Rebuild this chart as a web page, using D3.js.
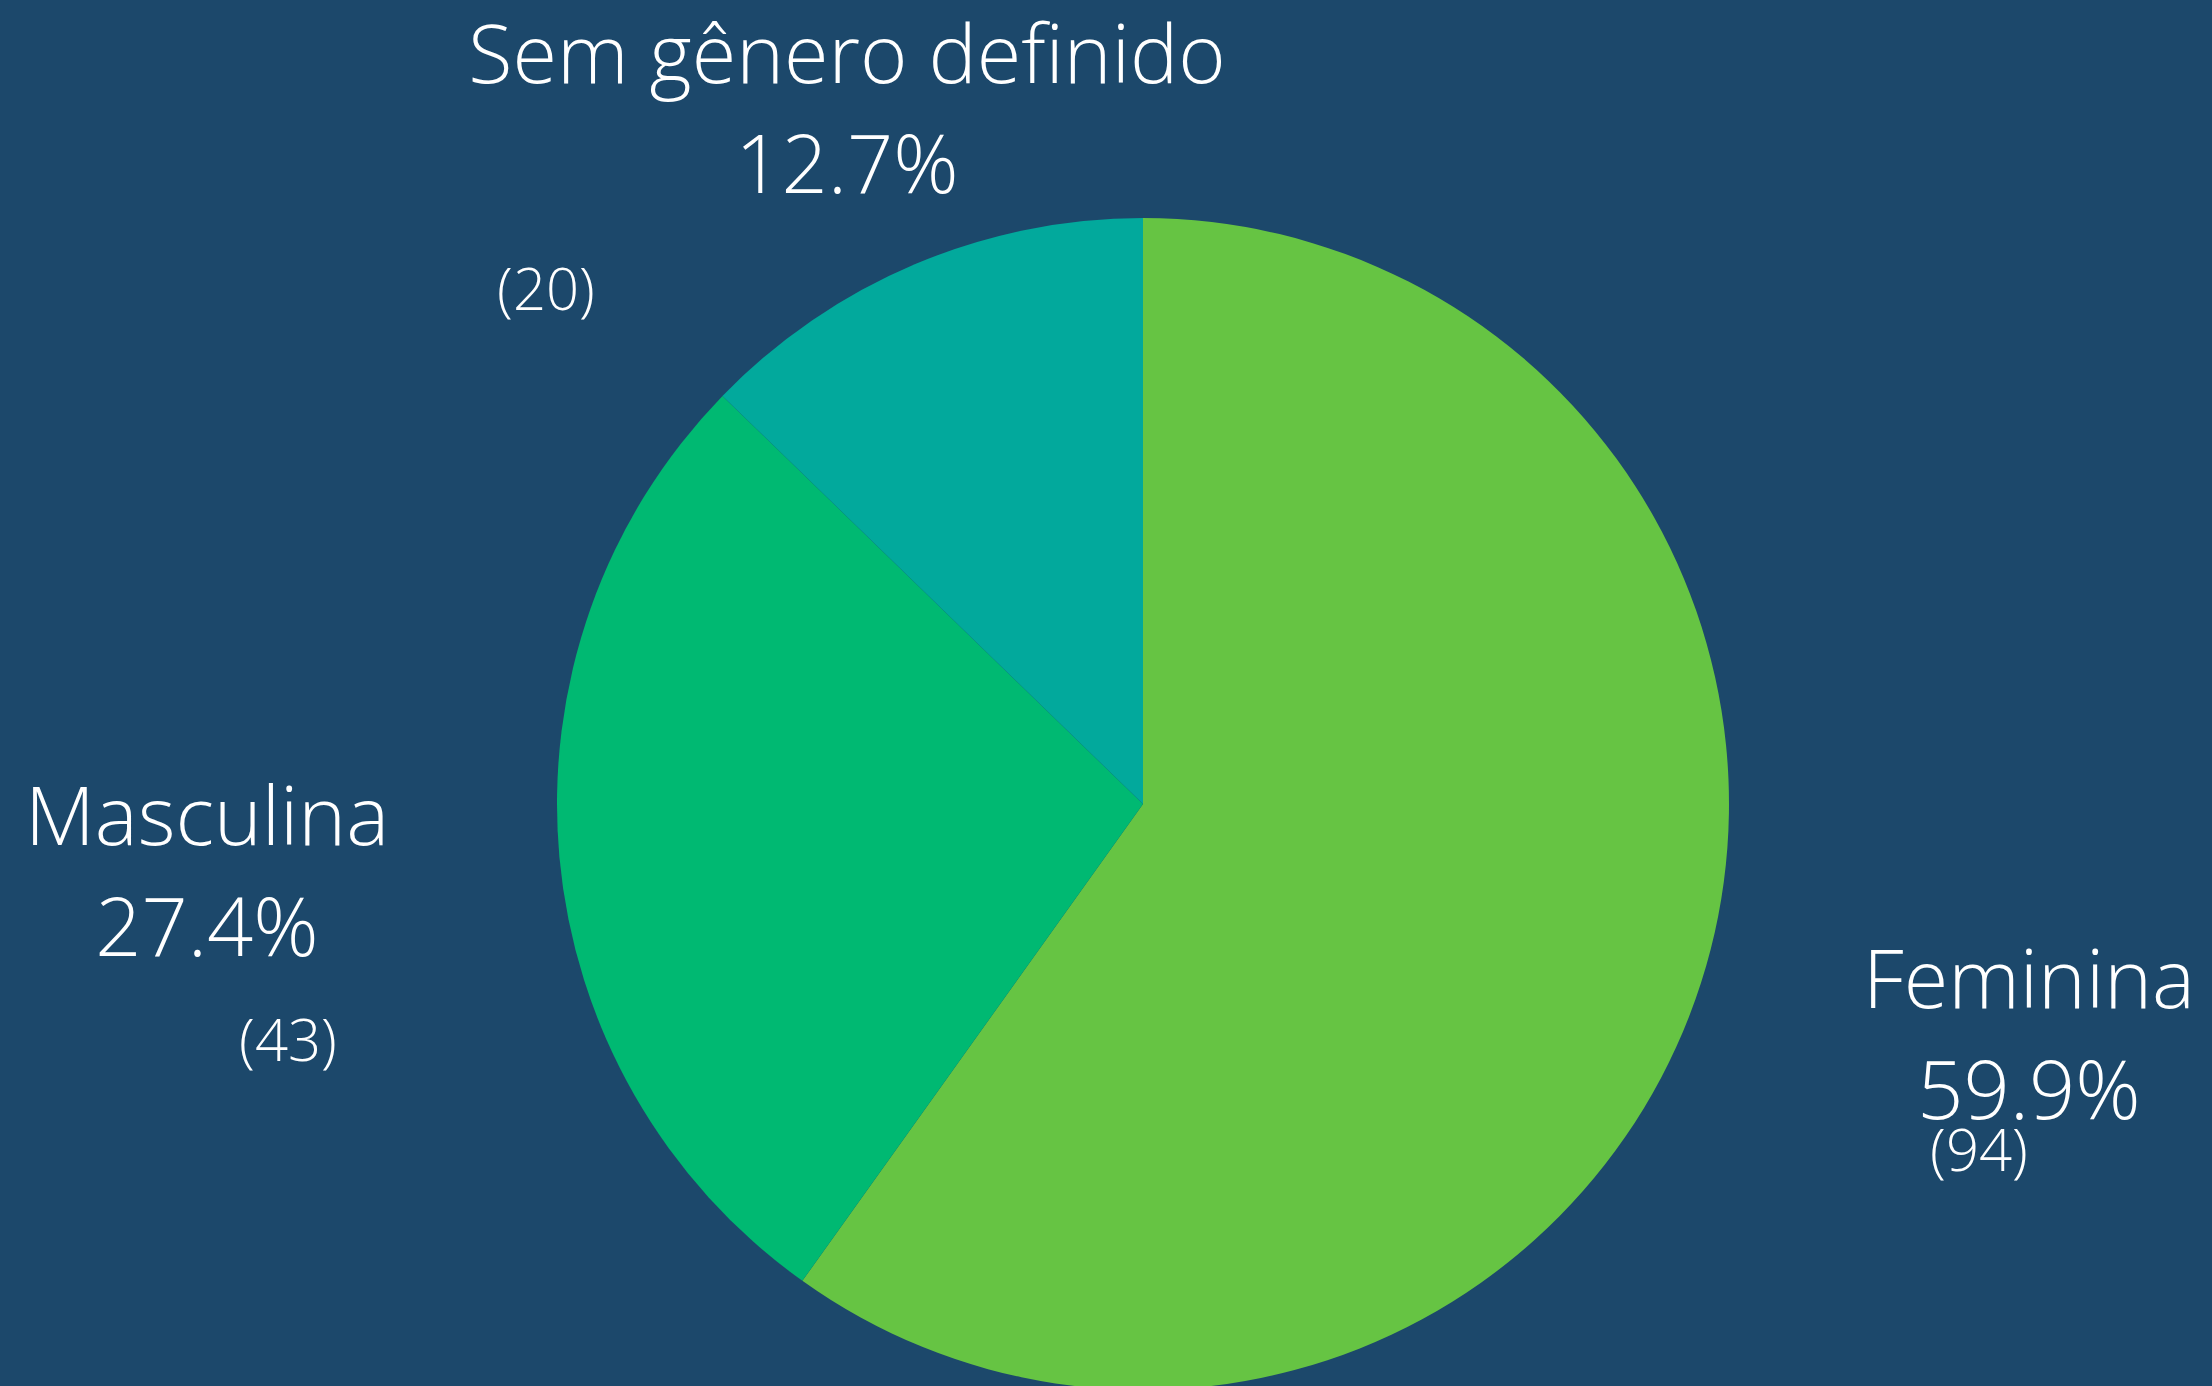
<!DOCTYPE html>
<html>
<head>
<meta charset="utf-8">
<script src="https://cdn.jsdelivr.net/npm/d3@7"></script>
<style>
  html, body { margin: 0; padding: 0; background: #1c486b; }
  svg { display: block; }
  text { font-family: "Open Sans", sans-serif; font-weight: 300; fill: #ffffff; }
</style>
</head>
<body>
<svg id="chart" width="2212" height="1386"></svg>
<script>
// Data
const categories = ["Feminina", "Masculina", "Sem gênero definido"];
const counts = [94, 43, 20];
const percentLabels = ["59.9%", "27.4%", "12.7%"];
const colors = ["#66c443", "#00b972", "#02a99c"];

const W = 2212, H = 1386;
const cx = 1143, cy = 804, R = 586;

const svg = d3.select("#chart");
svg.append("rect").attr("width", W).attr("height", H).attr("fill", "#1c486b");

const pie = d3.pie().sort(null).value(d => d.value);
const arcs = pie(categories.map((c, i) => ({ name: c, value: counts[i], pct: percentLabels[i], color: colors[i] })));
const arc = d3.arc().innerRadius(0).outerRadius(R);

const g = svg.append("g").attr("transform", `translate(${cx},${cy})`);
g.selectAll("path").data(arcs).join("path")
  .attr("d", arc)
  .attr("fill", d => d.data.color);

// Label layout (page positions of name / percentage / count lines)
const labelLayout = [
  { x: 2029, nameY: 1008, pctY: 1119, countX: 1979, countY: 1171 },
  { x: 207, nameY: 845, pctY: 956, countX: 288, countY: 1061 },
  { x: 847, nameY: 83, pctY: 193, countX: 546, countY: 310 }
];

const labels = svg.append("g");
arcs.forEach((d, i) => {
  const L = labelLayout[i];
  labels.append("text").attr("x", L.x).attr("y", L.nameY)
    .attr("text-anchor", "middle").attr("font-size", 81).text(d.data.name);
  labels.append("text").attr("x", L.x).attr("y", L.pctY)
    .attr("text-anchor", "middle").attr("font-size", 81).text(d.data.pct);
  labels.append("text").attr("x", L.countX).attr("y", L.countY)
    .attr("text-anchor", "middle").attr("font-size", 58).text(`(${d.data.value})`);
});
</script>
</body>
</html>
